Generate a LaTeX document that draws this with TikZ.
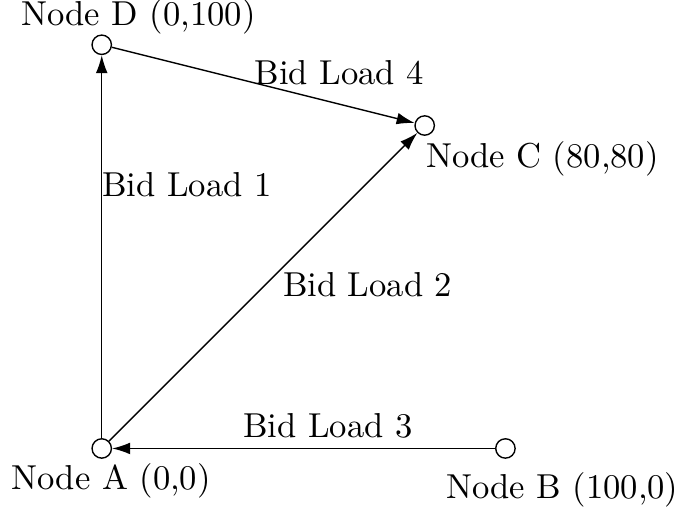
\documentclass[tikz,border=0pt]{standalone}
\usepackage{amsmath}
\usepackage{tikz}
\usetikzlibrary{arrows.meta}

\begin{document}
\begin{tikzpicture}[x=0.041cm,y=0.041cm,
        station/.style={circle,draw,fill=white,minimum size=5.6pt,inner sep=0pt},
        lbl/.style={anchor=base west,inner sep=0pt},
        bid/.style={-{Latex[length=5.2pt,width=3.4pt]}}]
        \useasboundingbox (-29.4pt,-19pt) rectangle (167.1pt,129.6pt);

        % stations
        \node[station] (A) at (0,0) {};
        \node[station] (B) at (100,0) {};
        \node[station] (C) at (80,80) {};
        \node[station] (D) at (0,100) {};

        % station labels
        \node[lbl,xshift=-26.2pt,yshift=-11.85pt] (labA) at (A) {Node A (0,0)};
        \node[lbl,xshift=-17.3pt,yshift=-14.4pt] (labB) at (B) {Node B (100,0)};
        \node[lbl,xshift=0.2pt,yshift=-12.1pt] (labC) at (C) {Node C (80,80)};
        \node[lbl,xshift=-23.4pt,yshift=5.6pt] (labD) at (D) {Node D (0,100)};

        % bid loads
        \draw[bid] (A) -- node[lbl,pos=0.63] (load1) {Bid Load 1} (D);
        \draw[bid] (A) -- node[lbl,pos=0.468,xshift=8.4pt] (load2) {Bid Load 2} (C);
        \draw[bid] (B) -- node[lbl,pos=0.659,yshift=3.2pt] (load3) {Bid Load 3} (A);
        \draw[bid] (D) -- node[lbl,pos=0.47,yshift=-0.6pt] (load4) {Bid Load 4} (C);
    \end{tikzpicture}
\end{document}
